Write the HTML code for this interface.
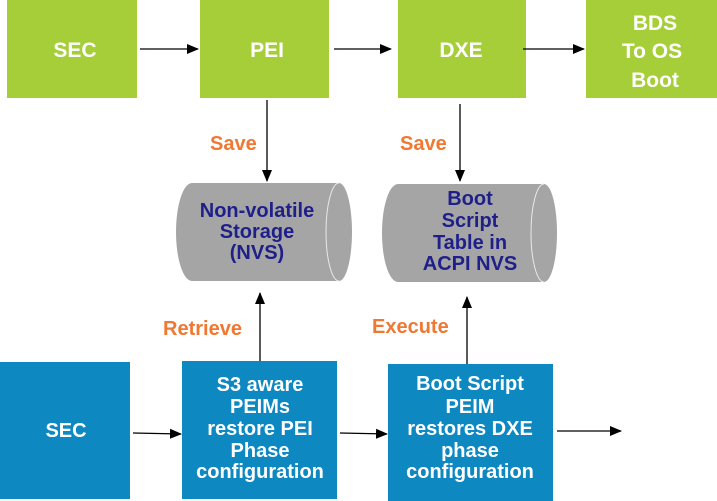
<!DOCTYPE html>
<html><head><meta charset="utf-8"><style>
html,body{margin:0;padding:0;background:#fff;}
svg{display:block;}
text{font-family:"Liberation Sans",Arial,sans-serif;font-weight:bold;}
</style></head><body>
<svg width="717" height="501" viewBox="0 0 717 501" xmlns="http://www.w3.org/2000/svg">
<defs>
<marker id="ah" markerWidth="12" markerHeight="12" refX="11" refY="6" orient="auto" markerUnits="userSpaceOnUse">
<path d="M0,1 L12,6 L0,11 Z" fill="#000"/>
</marker>
</defs>
<g fill="#a6ce39">
<rect x="7" y="0" width="130" height="98"/>
<rect x="200" y="0" width="129" height="98"/>
<rect x="398" y="0" width="128" height="98"/>
<rect x="586" y="0" width="131" height="98"/>
</g>
<g fill="#fff" font-size="21" text-anchor="middle">
<text x="75" y="57">SEC</text>
<text x="267" y="57">PEI</text>
<text x="461" y="57">DXE</text>
<text x="655" y="30">BDS</text>
<text x="652" y="58">To OS</text>
<text x="655" y="87">Boot</text>
</g>
<g stroke="#000" stroke-width="1.3" marker-end="url(#ah)">
<line x1="140" y1="49" x2="198" y2="49"/>
<line x1="334" y1="49" x2="391" y2="49"/>
<line x1="523" y1="49" x2="584" y2="49"/>
<line x1="267" y1="100" x2="267" y2="181"/>
<line x1="460" y1="104" x2="460" y2="181"/>
<line x1="260" y1="361" x2="260" y2="293"/>
<line x1="467" y1="365" x2="467" y2="297"/>
<line x1="133" y1="433" x2="181" y2="434"/>
<line x1="340" y1="433" x2="387" y2="434"/>
<line x1="557" y1="431" x2="621" y2="431"/>
</g>
<g fill="#f07832" font-size="20">
<text x="210" y="150">Save</text>
<text x="400" y="150">Save</text>
<text x="163" y="335">Retrieve</text>
<text x="372" y="333">Execute</text>
</g>
<path d="M192,183 L339,183 A13,49 0 0 1 339,281 L192,281 A16,49 0 0 1 192,183 Z" fill="#a5a5a5"/>
<path d="M339,183 A13,49 0 0 0 339,281" fill="none" stroke="#e8e8f0" stroke-width="1"/>
<path d="M398,184 L544,184 A13,49 0 0 1 544,282 L398,282 A16,49 0 0 1 398,184 Z" fill="#a5a5a5"/>
<path d="M544,184 A13,49 0 0 0 544,282" fill="none" stroke="#e8e8f0" stroke-width="1"/>
<g fill="#1f1f8a" font-size="20" text-anchor="middle">
<text x="257" y="217">Non-volatile</text>
<text x="257" y="238">Storage</text>
<text x="257" y="259">(NVS)</text>
<text x="470" y="205">Boot</text>
<text x="470" y="227">Script</text>
<text x="470" y="249">Table in</text>
<text x="470" y="270">ACPI NVS</text>
</g>
<g fill="#0e88c1">
<rect x="0" y="362" width="130" height="137"/>
<rect x="182" y="361" width="155" height="138"/>
<rect x="388" y="364" width="165" height="137"/>
</g>
<g fill="#fff" font-size="20" text-anchor="middle">
<text x="66" y="437">SEC</text>
<text x="260" y="391">S3 aware</text>
<text x="260" y="413">PEIMs</text>
<text x="260" y="435">restore PEI</text>
<text x="260" y="457">Phase</text>
<text x="260" y="478">configuration</text>
<text x="470" y="390">Boot Script</text>
<text x="470" y="413">PEIM</text>
<text x="470" y="435">restores DXE</text>
<text x="470" y="457">phase</text>
<text x="470" y="478">configuration</text>
</g>
</svg>
</body></html>
